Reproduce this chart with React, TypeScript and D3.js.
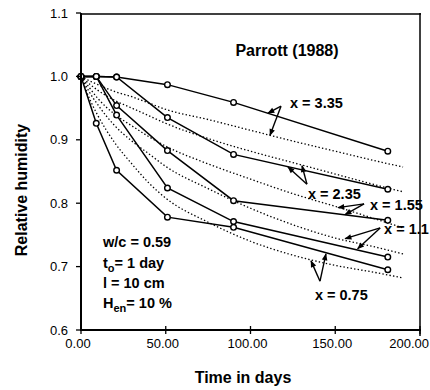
import React from "react";
import * as d3 from "d3";

// Measured data (Parrott 1988)
const DAYS = [0, 9, 21, 51, 90, 181];
const SERIES_LABELS = ["3.35", "2.35", "1.55", "1.1", "0.75"];
const RH_335 = [1.0, 1.0, 0.999, 0.987, 0.959, 0.882];
const RH_235 = [1.0, 1.0, 0.999, 0.935, 0.877, 0.822];
const RH_155 = [1.0, 1.0, 0.954, 0.883, 0.804, 0.773];
const RH_110 = [1.0, 1.0, 0.939, 0.824, 0.771, 0.715];
const RH_075 = [1.0, 0.926, 0.852, 0.778, 0.762, 0.695];

// Model predictions (dotted)
const MODEL_DAYS = [0, 5, 10, 20, 30, 40, 50, 75, 100, 125, 150, 175, 190];
const MODEL_335 = [1.0, 0.993, 0.987, 0.976, 0.968, 0.958, 0.948, 0.932, 0.915, 0.898, 0.882, 0.866, 0.857];
const MODEL_235 = [1.0, 0.988, 0.978, 0.962, 0.95, 0.938, 0.926, 0.902, 0.882, 0.864, 0.846, 0.828, 0.818];
const MODEL_155 = [1.0, 0.982, 0.965, 0.94, 0.922, 0.905, 0.89, 0.862, 0.838, 0.815, 0.795, 0.774, 0.761];
const MODEL_110 = [1.0, 0.975, 0.955, 0.922, 0.898, 0.878, 0.858, 0.823, 0.792, 0.766, 0.745, 0.73, 0.72];
const MODEL_075 = [1.0, 0.965, 0.938, 0.895, 0.862, 0.832, 0.808, 0.77, 0.74, 0.718, 0.702, 0.69, 0.682];

const X_TICKS = [0, 50, 100, 150, 200];
const X_TICK_LABELS = ["0.00", "50.00", "100.00", "150.00", "200.00"];
const Y_TICKS = [0.6, 0.7, 0.8, 0.9, 1.0, 1.1];
const Y_TICK_LABELS = ["0.6", "0.7", "0.8", "0.9", "1.0", "1.1"];

// Annotation positions in data units
const ANNOT_LABEL_POS = [
  [123.3, 0.95],
  [133.9, 0.807],
  [170.5, 0.789],
  [178.8, 0.751],
  [138, 0.647],
];
const ANNOT_VERTEX = [
  [118, 0.953],
  [133.3, 0.83],
  [167, 0.799],
  [176.5, 0.761],
  [141, 0.677],
];
const ANNOT_TIPS = [
  [[110.3, 0.942], [111.5, 0.907]],
  [[122.1, 0.857], [130.4, 0.859]],
  [[151.6, 0.793], [155.8, 0.782]],
  [[155.8, 0.744], [163.2, 0.728]],
  [[135.7, 0.709], [144.5, 0.72]],
];

export default function App() {
  const W = 430;
  const H = 390;
  const x = d3.scaleLinear().domain([0, 200]).range([81, 420]);
  const y = d3.scaleLinear().domain([0.6, 1.1]).range([330, 13]);

  const measured = [RH_335, RH_235, RH_155, RH_110, RH_075];
  const models = [MODEL_335, MODEL_235, MODEL_155, MODEL_110, MODEL_075];

  const solidLine = d3
    .line<number>()
    .x((_, i) => x(DAYS[i]))
    .y((d) => y(d));
  const modelLine = d3
    .line<number>()
    .x((_, i) => x(MODEL_DAYS[i]))
    .y((d) => y(d))
    .curve(d3.curveMonotoneX);

  const font = "'Liberation Sans', Arial, Helvetica, sans-serif";

  return (
    <svg
      width={W}
      height={H}
      style={{ position: "absolute", left: 0, top: 0, background: "#fff" }}
      fontFamily={font}
    >
      <defs>
        <marker
          id="ah"
          viewBox="0 0 10 10"
          refX="9"
          refY="5"
          markerWidth="10"
          markerHeight="7"
          orient="auto"
          markerUnits="userSpaceOnUse"
        >
          <path d="M0,1 L10,5 L0,9 z" fill="#000" />
        </marker>
      </defs>
      <rect x={0} y={0} width={W} height={H} fill="#fff" />

      {/* model dotted curves */}
      {models.map((m, k) => (
        <path
          key={"m" + k}
          d={modelLine(m) || ""}
          fill="none"
          stroke="#000"
          strokeWidth={1.3}
          strokeDasharray="1.4 2.2"
        />
      ))}

      {/* measured solid lines */}
      {measured.map((s, k) => (
        <path
          key={"s" + k}
          d={solidLine(s) || ""}
          fill="none"
          stroke="#000"
          strokeWidth={1.5}
        />
      ))}
      {measured.map((s, k) =>
        s.map((v, i) => (
          <circle
            key={"c" + k + "-" + i}
            cx={x(DAYS[i])}
            cy={y(v)}
            r={2.8}
            fill="#fff"
            stroke="#000"
            strokeWidth={1.4}
          />
        ))
      )}

      {/* frame */}
      <line x1={81} x2={421} y1={y(1.1) + 1} y2={y(1.1) + 1} stroke="#000" strokeWidth={1.5} />
      <line x1={420} x2={420} y1={y(1.1)} y2={336} stroke="#000" strokeWidth={1.5} />
      <line x1={81} x2={81} y1={y(1.1)} y2={331} stroke="#000" strokeWidth={2} />
      <line x1={80} x2={421} y1={y(0.6)} y2={y(0.6)} stroke="#000" strokeWidth={2} />

      {/* y ticks */}
      {Y_TICKS.map((t, i) => (
        <g key={"yt" + i}>
          <line x1={76} x2={81} y1={y(t)} y2={y(t)} stroke="#000" strokeWidth={1.3} />
          <text x={68} y={y(t) + 4.5} fontSize={13} textAnchor="end" fill="#000">
            {Y_TICK_LABELS[i]}
          </text>
        </g>
      ))}
      {/* x ticks */}
      {X_TICKS.map((t, i) => {
        const last = i === X_TICKS.length - 1;
        return (
          <g key={"xt" + i}>
            <line x1={x(t)} x2={x(t)} y1={326} y2={334} stroke="#000" strokeWidth={1.3} />
            <text
              x={last ? 429 : x(t) - 3}
              y={348}
              fontSize={13}
              textAnchor={last ? "end" : "middle"}
              fill="#000"
            >
              {X_TICK_LABELS[i]}
            </text>
          </g>
        );
      })}

      {/* axis titles */}
      <text
        transform={`translate(27,${190}) rotate(-90)`}
        fontSize={16}
        fontWeight="bold"
        textAnchor="middle"
        fill="#000"
      >
        Relative humidity
      </text>
      <text x={243} y={383} fontSize={16} fontWeight="bold" textAnchor="middle" fill="#000">
        Time in days
      </text>

      {/* title */}
      <text x={287} y={56} fontSize={16} fontWeight="bold" textAnchor="middle" fill="#000">
        Parrott (1988)
      </text>

      {/* parameters */}
      <g fontSize={14.5} fontWeight="bold" fill="#000">
        <text x={103} y={247}>w/c = 0.59</text>
        <text x={103} y={268}>
          t<tspan fontSize={11} dy={4}>o</tspan>
          <tspan dy={-4}>= 1 day</tspan>
        </text>
        <text x={103} y={288}>l = 10 cm</text>
        <text x={103} y={308}>
          H<tspan fontSize={11} dy={4}>en</tspan>
          <tspan dy={-4}>= 10 %</tspan>
        </text>
      </g>

      {/* annotations */}
      {SERIES_LABELS.map((lab, k) => (
        <g key={"a" + k}>
          {ANNOT_TIPS[k].map((tip, j) => (
            <line
              key={j}
              x1={x(ANNOT_VERTEX[k][0])}
              y1={y(ANNOT_VERTEX[k][1])}
              x2={x(tip[0])}
              y2={y(tip[1])}
              stroke="#000"
              strokeWidth={1.4}
              markerEnd="url(#ah)"
            />
          ))}
          <text
            x={x(ANNOT_LABEL_POS[k][0])}
            y={y(ANNOT_LABEL_POS[k][1])}
            fontSize={14.5}
            fontWeight="bold"
            fill="#000"
          >
            {"x = " + lab}
          </text>
        </g>
      ))}
    </svg>
  );
}
